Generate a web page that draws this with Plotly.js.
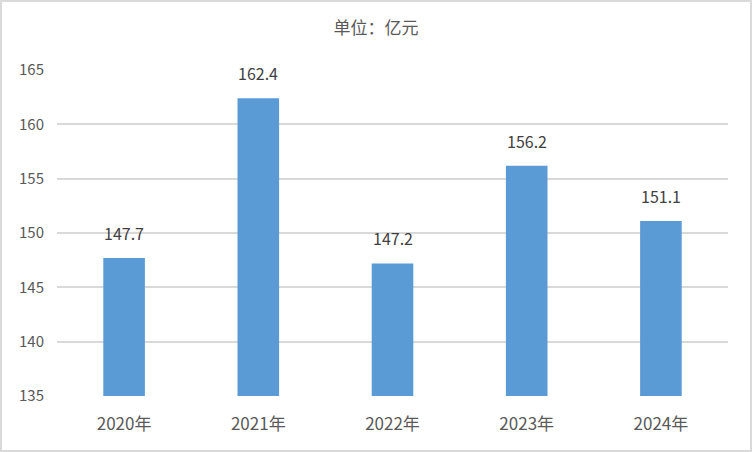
<!DOCTYPE html>
<html>
<head>
<meta charset="utf-8">
<script src="https://cdn.plot.ly/plotly-3.0.1.min.js"></script>
<style>
html,body{margin:0;padding:0;background:#fff;}
#wrap{position:relative;width:752px;height:452px;}
#chart{width:752px;height:452px;}
#frame{position:absolute;left:0;top:0;width:752px;height:452px;box-sizing:border-box;border:2px solid #d9d9d9;pointer-events:none;}
</style>
</head>
<body>
<div id="wrap"><div id="chart"></div><div id="frame"></div></div>
<script>
const categories = ["2020年", "2021年", "2022年", "2023年", "2024年"];
const values = [147.7, 162.4, 147.2, 156.2, 151.1];
const yTicks = [135, 140, 145, 150, 155, 160, 165];

const font = '"Microsoft YaHei", "Noto Sans CJK SC", "DejaVu Sans", sans-serif';

const labels = categories.map((c, i) => ({
  x: c, y: values[i], xref: 'x', yref: 'y',
  text: values[i].toFixed(1), showarrow: false,
  yanchor: 'bottom', yshift: 11,
  font: {family: font, size: 16, color: '#404040'}
}));

Plotly.newPlot('chart', [{
  type: 'bar',
  x: categories,
  y: values,
  base: 0,
  marker: {color: '#5b9bd5'},
  width: 0.31,
  hoverinfo: 'x+y'
}], {
  width: 752,
  height: 452,
  margin: {l: 57, r: 24, t: 70, b: 56},
  paper_bgcolor: '#ffffff',
  plot_bgcolor: '#ffffff',
  showlegend: false,
  annotations: labels,
  title: {text: '单位：亿元', x: 0.5, xanchor: 'center', y: 0.938, yanchor: 'middle',
          font: {family: font, size: 17, color: '#595959'}},
  xaxis: {
    type: 'category',
    tickfont: {family: font, size: 17, color: '#595959'},
    showgrid: false,
    showline: false,
    zeroline: false,
    ticks: '',
    ticklabelstandoff: 16
  },
  yaxis: {
    range: [135, 165],
    tickvals: yTicks,
    ticktext: yTicks.map(String),
    tickfont: {family: font, size: 15, color: '#595959'},
    showgrid: true,
    gridcolor: '#d9d9d9',
    gridwidth: 2,
    zeroline: false,
    showline: false,
    ticks: '',
    ticklabelstandoff: 12
  },
  bargap: 0.69
}, {displayModeBar: false, staticPlot: true});
</script>
</body>
</html>
